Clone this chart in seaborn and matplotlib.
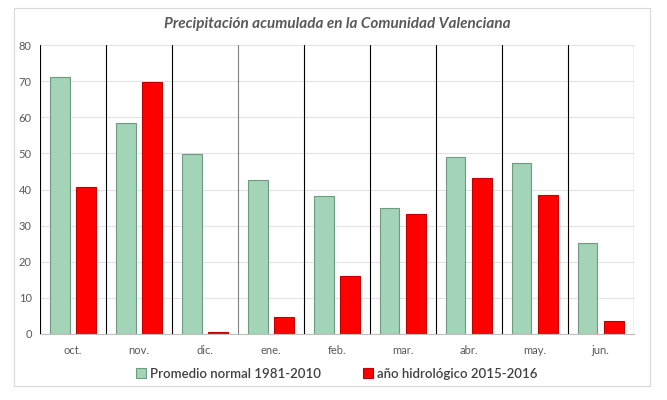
import pandas as pd
import seaborn as sns
import matplotlib.pyplot as plt
from matplotlib.patches import Rectangle

# monthly values (mm)
meses = ["oct.", "nov.", "dic.", "ene.", "feb.", "mar.", "abr.", "may.", "jun."]
promedio = [71.1, 58.4, 49.8, 42.6, 38.2, 34.9, 49.0, 47.3, 25.2]
anio_2016 = [40.7, 69.8, 0.6, 4.7, 16.0, 33.2, 43.2, 38.5, 3.6]

serie_a = "Promedio normal 1981-2010"
serie_b = "año hidrológico 2015-2016"

df = pd.DataFrame({
    "mes": meses * 2,
    "valor": promedio + anio_2016,
    "serie": [serie_a] * len(meses) + [serie_b] * len(meses),
})

sns.set_style("white")
plt.rcParams["font.family"] = ["Lato", "DejaVu Sans"]

fig = plt.figure(figsize=(6.67, 4), dpi=100)
ax = fig.add_axes([0.06, 0.165, 0.89, 0.7225])

# light frame around the whole chart
fig.patches.append(Rectangle((0.021, 0.035), 0.953, 0.945, transform=fig.transFigure,
                             fill=False, edgecolor="#d9d9d9", linewidth=0.8))

sns.barplot(
    data=df, x="mes", y="valor", hue="serie",
    palette={serie_a: "#a3d4b8", serie_b: "#ff0000"},
    saturation=1, width=0.8, gap=0.25, ax=ax, legend=True,
)
edges = ["#6e9a80", "#c00000"]
for cont, ec in zip(ax.containers, edges):
    for bar in cont:
        bar.set_edgecolor(ec)
        bar.set_linewidth(0.8)

ax.set_ylim(0, 80)
ax.set_xlim(-0.5, len(meses) - 0.5)
ax.set_yticks(range(0, 81, 10))
ax.yaxis.grid(True, color="#e3e3e3", linewidth=0.8)
ax.set_axisbelow(True)

# vertical separators between months
for i in range(len(meses) + 1):
    ax.axvline(i - 0.5, color="#808080" if i == 3 else "black", linewidth=0.8, zorder=3)

for s in ["top", "right", "left"]:
    ax.spines[s].set_visible(False)
ax.spines["bottom"].set_color("#bfbfbf")
ax.spines["bottom"].set_linewidth(0.8)

ax.tick_params(axis="both", length=0, labelsize=8, colors="#595959", pad=8)
ax.tick_params(axis="y", pad=6)
ax.set_xlabel("")
ax.set_ylabel("")

ax.set_title("Precipitación acumulada en la Comunidad Valenciana", fontsize=11,
             style="italic", fontweight="bold", color="#595959", pad=12)

handles, labels = ax.get_legend_handles_labels()
for h, ec in zip(handles, edges):
    h.set_edgecolor(ec)
    h.set_linewidth(0.8)
ax.legend(handles, labels, loc="upper center", bbox_to_anchor=(0.5, -0.075), ncol=2,
          frameon=False, fontsize=9.5, handlelength=0.75, handleheight=0.75,
          handletextpad=0.3, columnspacing=3.2, labelcolor="#404040",
          prop={"weight": "semibold", "size": 9.5})

fig.savefig("out.png", dpi=100)
